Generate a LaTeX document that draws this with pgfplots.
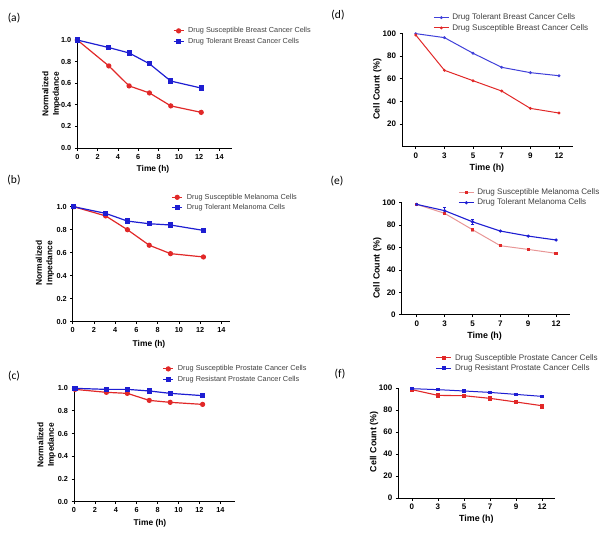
\documentclass[border=0pt]{standalone}
\usepackage{pgfplots}
\pgfplotsset{compat=1.18}
\usepackage{fontspec}
\setmainfont{Liberation Sans}
\newfontfamily\carlito{Carlito}
\definecolor{gpred}{RGB}{225,40,40}
\definecolor{gpblue}{RGB}{30,30,210}
\definecolor{gppink}{RGB}{232,150,150}
\pgfplotsset{
  gp/.style={
    scale only axis, clip=false,
    axis x line*=bottom, axis y line*=left,
    axis line style={-, line width=0.8pt},
    tick align=outside, major tick length=2.5pt,
    tick style={line width=0.8pt, black},
    tick label style={font=\fontsize{7.3}{8}\selectfont\bfseries},
    label style={font=\fontsize{8.4}{10.5}\selectfont\bfseries},
    legend style={draw=none, fill=none, inner sep=0pt, outer sep=0pt, anchor=west,
      font=\fontsize{7.3}{8}\selectfont, text=black!75, row sep=1.5pt,
      nodes={inner sep=1pt},
      /tikz/every odd column/.append style={column sep=3pt}},
    legend cell align=left,
    legend image code/.code={\draw[mark repeat=2,mark phase=2,##1] plot coordinates {(0pt,0pt) (5pt,0pt) (10pt,0pt)};},
    /pgf/number format/assume math mode=true,
  },
  gpc/.style={gp,
    xtick={0,1,2,3,4,5}, xticklabels={0,3,5,7,9,12},
    ymin=0, ymax=100,
    tick label style={font=\fontsize{8}{9}\selectfont\bfseries},
    label style={font=\fontsize{8.9}{10}\selectfont\bfseries},
    legend style={font=\fontsize{8.1}{9}\selectfont, row sep=1pt,
      /tikz/every odd column/.append style={column sep=2pt}},
    legend image code/.code={\draw[mark repeat=2,mark phase=2,##1] plot coordinates {(0pt,0pt) (7.5pt,0pt) (15pt,0pt)};},
  },
  rs/.style={color=gpred, line width=1.2pt, mark=*, mark size=2pt},
  bs/.style={color=gpblue, line width=1.2pt, mark=square*, mark size=2pt},
}
\begin{document}
\begin{tikzpicture}
\path[use as bounding box] (0,0) rectangle (604pt,-539pt);
% panel labels
\node[font=\carlito\fontsize{11.5}{12}\selectfont] at (14pt,-18pt) {(a)};
\node[font=\carlito\fontsize{11.5}{12}\selectfont] at (14pt,-180pt) {(b)};
\node[font=\carlito\fontsize{11.5}{12}\selectfont] at (14pt,-376pt) {(c)};
\node[font=\carlito\fontsize{11.5}{12}\selectfont] at (338pt,-15pt) {(d)};
\node[font=\carlito\fontsize{11.5}{12}\selectfont] at (337pt,-181pt) {(e)};
\node[font=\carlito\fontsize{11.5}{12}\selectfont] at (340pt,-374pt) {(f)};

% (a)
\begin{axis}[gp, at={(77.3pt,-148pt)}, anchor=south west, width=154.4pt, height=108pt,
  xmin=0, xmax=15.2, ymin=0, ymax=1,
  xtick={0,2,4,6,8,10,12,14},
  ytick={0,0.2,0.4,0.6,0.8,1.0}, yticklabels={0.0,0.2,0.4,0.6,0.8,1.0},
  xlabel={Time (h)}, ylabel={Normalized\\Impedance},
  xlabel style={at={(axis description cs:0.49,-0.194)}, anchor=center},
  ylabel style={at={(axis description cs:-0.167,0.5)}, anchor=center, align=center},
  legend style={at={(axis description cs:0.62,1.037)}}]
\addplot[rs] coordinates {(0,1.0) (3.1,0.76) (5.1,0.575) (7.1,0.51) (9.2,0.39) (12.2,0.33)};
\addlegendentry{Drug Susceptible Breast Cancer Cells}
\addplot[bs] coordinates {(0,1.0) (3.1,0.93) (5.1,0.88) (7.1,0.78) (9.2,0.62) (12.2,0.555)};
\addlegendentry{Drug Tolerant Breast Cancer Cells}
\end{axis}

% (b)
\begin{axis}[gp, at={(72.7pt,-321.7pt)}, anchor=south west, width=157.3pt, height=115pt,
  xmin=0, xmax=14.8, ymin=0, ymax=1,
  xtick={0,2,4,6,8,10,12,14},
  ytick={0,0.2,0.4,0.6,0.8,1.0}, yticklabels={0.0,0.2,0.4,0.6,0.8,1.0},
  xlabel={Time (h)}, ylabel={Normalized\\Impedance},
  xlabel style={at={(axis description cs:0.485,-0.194)}, anchor=center},
  ylabel style={at={(axis description cs:-0.176,0.51)}, anchor=center, align=center},
  legend style={at={(axis description cs:0.629,1.037)}}]
\addplot[rs] coordinates {(0.1,1.0) (3.1,0.92) (5.15,0.80) (7.2,0.665) (9.2,0.592) (12.3,0.563)};
\addlegendentry{Drug Susceptible Melanoma Cells}
\addplot[bs] coordinates {(0.1,1.0) (3.1,0.942) (5.15,0.875) (7.2,0.852) (9.2,0.841) (12.3,0.794)};
\addlegendentry{Drug Tolerant Melanoma Cells}
\end{axis}

% (c)
\begin{axis}[gp, at={(74pt,-501.7pt)}, anchor=south west, width=161pt, height=113.7pt,
  xmin=0, xmax=15.4, ymin=0, ymax=1,
  xtick={0,2,4,6,8,10,12,14},
  ytick={0,0.2,0.4,0.6,0.8,1.0}, yticklabels={0.0,0.2,0.4,0.6,0.8,1.0},
  xlabel={Time (h)}, ylabel={Normalized\\Impedance},
  xlabel style={at={(axis description cs:0.472,-0.19)}, anchor=center},
  ylabel style={at={(axis description cs:-0.171,0.5)}, anchor=center, align=center},
  legend style={at={(axis description cs:0.551,1.123)}}]
\addplot[rs] coordinates {(0.1,0.988) (3.1,0.962) (5.1,0.953) (7.2,0.891) (9.2,0.874) (12.3,0.856)};
\addlegendentry{Drug Susceptible Prostate Cancer Cells}
\addplot[bs] coordinates {(0.1,0.997) (3.1,0.988) (5.1,0.988) (7.2,0.974) (9.2,0.953) (12.3,0.933)};
\addlegendentry{Drug Resistant Prostate Cancer Cells}
\end{axis}

% (d)
\begin{axis}[gpc, at={(402pt,-146.7pt)}, anchor=south west, width=171.3pt, height=113.4pt,
  xmin=-0.48, xmax=5.5,
  ytick={20,40,60,80,100},
  xlabel={Time (h)}, ylabel={Cell Count (\%)},
  xlabel style={at={(axis description cs:0.496,-0.19)}, anchor=center},
  ylabel style={at={(axis description cs:-0.144,0.506)}, anchor=center},
  legend style={at={(axis description cs:0.183,1.093)}}]
\addplot[color=gpblue!85!white, line width=1pt, mark=*, mark size=0.9pt] coordinates {(0,99.7) (1,96.2) (2,82.4) (3,70) (4,65.3) (5,62.6)};
\addlegendentry{Drug Tolerant Breast Cancer Cells}
\addplot[color=gpred, line width=1pt, mark=*, mark size=0.9pt] coordinates {(0,98.5) (1,67.4) (2,58.2) (3,49.1) (4,33.8) (5,29.7)};
\addlegendentry{Drug Susceptible Breast Cancer Cells}
\end{axis}

% (e)
\begin{axis}[gpc, at={(401.7pt,-314.7pt)}, anchor=south west, width=168.3pt, height=112pt,
  xmin=-0.54, xmax=5.5,
  ytick={0,20,40,60,80,100},
  xlabel={Time (h)}, ylabel={Cell Count (\%)},
  xlabel style={at={(axis description cs:0.493,-0.1875)}, anchor=center},
  ylabel style={at={(axis description cs:-0.145,0.414)}, anchor=center},
  legend style={at={(axis description cs:0.336,1.046)}}]
\addplot[color=gppink, line width=1pt, mark=square*, mark size=1.2pt,
  mark options={color=gpred},
  error bars/.cd, y dir=both, y explicit, error mark options={rotate=90, mark size=1.5pt}] coordinates {(0,98.5) (1,90.5) (2,75.9) +- (0,1.5) (3,61.6) (4,58.3) (5,54.8)};
\addlegendentry{Drug Susceptible Melanoma Cells}
\addplot[color=gpblue, line width=1.1pt, mark=*, mark size=1pt,
  error bars/.cd, y dir=both, y explicit, error mark options={rotate=90, mark size=1.8pt}] coordinates {(0,98.5) (1,92.9) +- (0,2.8) (2,83) +- (0,2.6) (3,74.7) (4,70.2) (5,66.7)};
\addlegendentry{Drug Tolerant Melanoma Cells}
\end{axis}

% (f)
\begin{axis}[gpc, at={(398.3pt,-498pt)}, anchor=south west, width=156.7pt, height=110pt,
  xmin=-0.525, xmax=5.5,
  ytick={0,20,40,60,80,100},
  xlabel={Time (h)}, ylabel={Cell Count (\%)},
  xlabel style={at={(axis description cs:0.498,-0.194)}, anchor=center},
  ylabel style={at={(axis description cs:-0.155,0.512)}, anchor=center},
  legend style={at={(axis description cs:0.24,1.227)}}]
\addplot[color=gpred, line width=1.1pt, mark=square*, mark size=1.6pt,
  error bars/.cd, y dir=both, y explicit, error mark options={rotate=90, mark size=1.8pt}] coordinates {(0,98.5) (1,93.3) +- (0,1.8) (2,93) (3,90.6) (4,87.3) (5,83.9) +- (0,1.8)};
\addlegendentry{Drug Susceptible Prostate Cancer Cells}
\addplot[color=gpblue, line width=1pt, mark=square*, mark size=1.3pt] coordinates {(0,99.4) (1,98.5) (2,97.3) (3,96) (4,94.2) (5,92.4)};
\addlegendentry{Drug Resistant Prostate Cancer Cells}
\end{axis}
\end{tikzpicture}
\end{document}
